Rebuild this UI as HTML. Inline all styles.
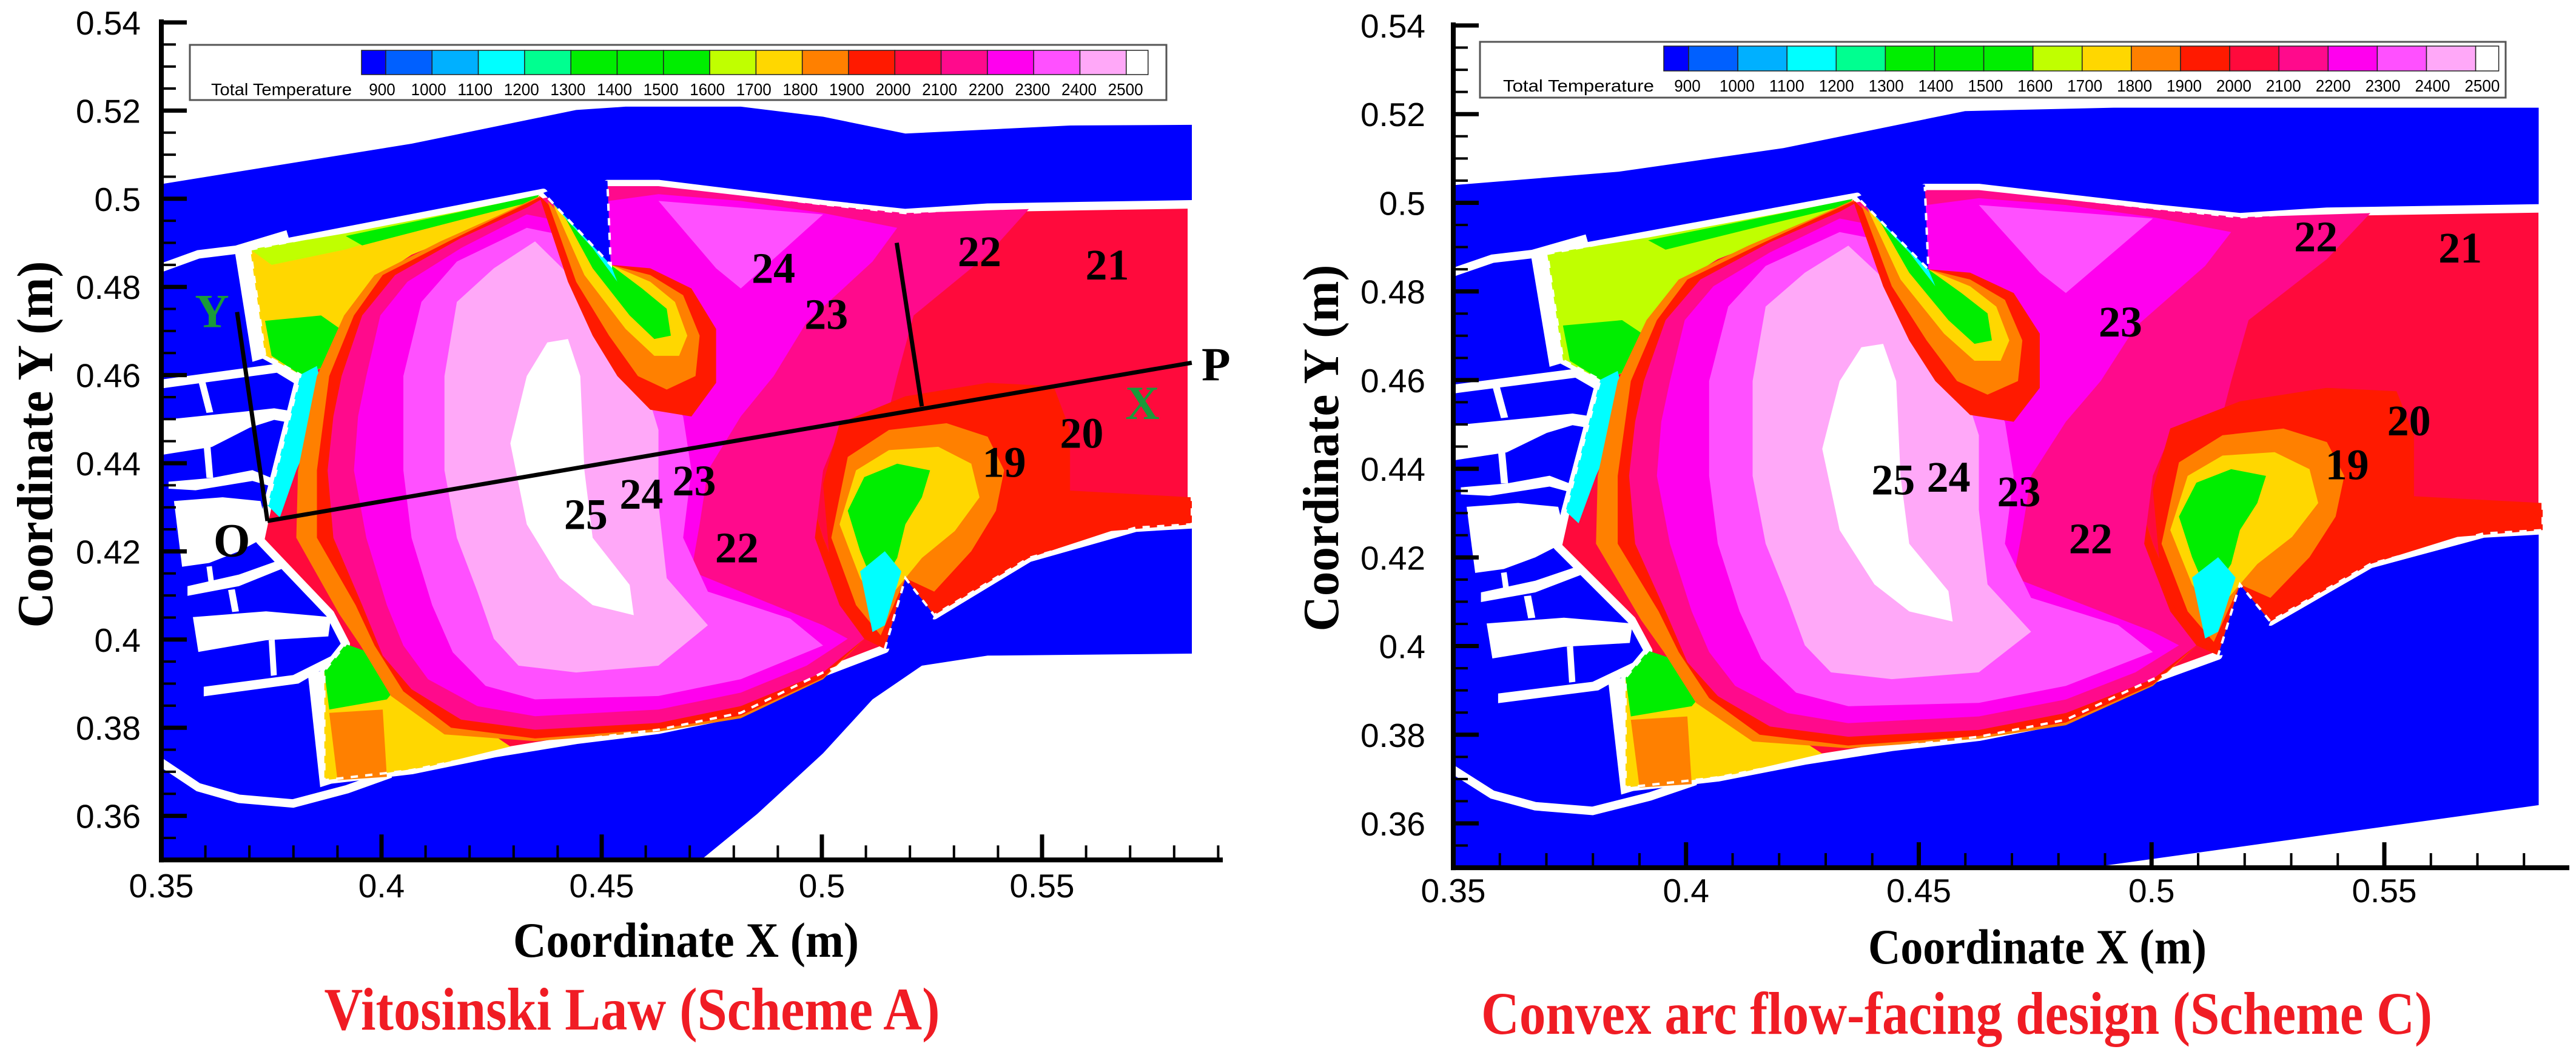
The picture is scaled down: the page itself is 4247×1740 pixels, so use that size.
<!DOCTYPE html>
<html><head><meta charset="utf-8"><style>
html,body{margin:0;padding:0;background:#fff;}
svg{display:block;}
</style></head><body>
<svg id="fig" width="4247" height="1740" viewBox="0 0 4247 1740" xmlns="http://www.w3.org/2000/svg"></svg>
<script>
// ---- chart data ----
const tickValuesX=[0.35,0.40,0.45,0.50,0.55];
const tickLabelsX=['0.35','0.4','0.45','0.5','0.55'];
const tickValuesY=[0.36,0.38,0.40,0.42,0.44,0.46,0.48,0.50,0.52,0.54];
const tickLabelsY=['0.36','0.38','0.4','0.42','0.44','0.46','0.48','0.5','0.52','0.54'];
const cbLevels=['900','1000','1100','1200','1300','1400','1500','1600','1700','1800','1900','2000','2100','2200','2300','2400','2500'];
const cbColors=['#0000ff','#0060ff','#00b0ff','#00ffff','#00ff90','#00ee00','#00ee00','#00ee00','#c0ff00','#ffd700','#ff8000','#ff1a00','#ff0a3c','#ff0a8c','#ff00ee','#ff50ff','#ffa8f8','#ffffff'];
const labelsA=['24','23','22','21','19','20','25','24','23','22'];
const labelsAx=[0.489,0.501,0.5358,0.5648,0.5414,0.559,0.4464,0.459,0.471,0.4807];
const labelsAy=[0.4842,0.4738,0.488,0.485,0.4402,0.4468,0.4284,0.433,0.436,0.4208];
const labelsC=['22','21','23','20','19','25','24','23','22'];
const labelsCx=[0.5353,0.5663,0.4933,0.5553,0.542,0.4445,0.4564,0.4715,0.4869];
const labelsCy=[0.4923,0.4898,0.4731,0.4508,0.4409,0.4375,0.4381,0.4348,0.4242];

const NS='http://www.w3.org/2000/svg';
const svg=document.getElementById('fig');
function el(tag,attrs,parent){const e=document.createElementNS(NS,tag);for(const k in attrs)e.setAttribute(k,attrs[k]);(parent||svg).appendChild(e);return e;}
function z1(a){return a.map(p=>[0.35+(p[0]-196)/5350,0.54-(p[1]-35)/6544]);}
function z2(a){return a.map(p=>[0.35+(p[0]-200)/5640,0.54-(p[1]-38)/6578]);}
function z6(a){return a.map(p=>{const px=260+p[0]/2.24,py=380+p[1]/1.568;return [0.35+(px-266)/7260,0.54-(py-37)/7270];});}

const casingA=z1([[196,1290],[840,1290],[920,1210],[1000,1120],[1060,1040],[1120,990],[1200,975],[1448,972],[1448,187],[1300,188],[1100,200],[1000,175],[900,160],[760,160],[700,165],[500,215],[196,275]]);
const casingC=z2([[200,1300],[900,1300],[1515,1195],[1515,160],[1000,160],[820,165],[600,220],[400,255],[200,275]]);
const hot=z1([[304,372],[660,288],[742,395],[738,275],[800,275],[900,290],[1000,305],[1100,318],[1200,310],[1448,305],[1448,780],[1380,785],[1250,830],[1135,915],[1100,860],[1075,965],[1000,1000],[900,1060],[800,1085],[700,1100],[600,1120],[500,1145],[465,1150],[394,1160],[394,998],[420,958],[401,913],[316,804],[325,752],[365,558],[322,529]]);
const swirl=[
 [[285,55],[335,50],[395,330],[350,340]],
 [[20,385],[440,345],[525,385],[515,400],[440,368],[20,408]],
 [[150,390],[175,388],[205,470],[180,472]],
 [[20,490],[300,470],[430,460],[520,470],[510,500],[430,490],[340,510],[200,560],[20,580]],
 [[170,560],[195,560],[205,640],[180,640]],
 [[40,650],[200,640],[350,620],[420,640],[420,662],[350,648],[140,672],[40,668]],
 [[60,700],[240,690],[380,700],[400,760],[380,800],[300,830],[190,860],[90,870]],
 [[110,920],[300,890],[460,850],[470,872],[300,920],[110,945]],
 [[180,870],[200,868],[210,920],[190,922]],
 [[260,930],[285,928],[300,985],[275,987]],
 [[130,1000],[400,985],[640,1000],[630,1050],[400,1060],[150,1090]],
 [[410,1060],[432,1058],[440,1150],[418,1152]],
 [[170,1180],[500,1150],[700,1080],[690,1102],[520,1172],[170,1205]],
 [[555,1150],[600,1140],[645,1430],[600,1440]]
].map(z6);
const arcTop=z6([[0,100],[150,62],[290,50],[480,10]]);
const arcBot=z6([[0,1370],[150,1440],[300,1470],[500,1482],[700,1445],[860,1405]]);

const layers=[
 ['#ffd700',[[304,372],[420,350],[560,315],[655,292],[600,330],[500,380],[450,420],[430,470],[420,520],[400,545],[365,558],[322,529]]],
 ['#c0ff00',[[304,372],[420,348],[560,315],[655,292],[620,305],[520,335],[420,372],[330,395]]],
 ['#00ee00',[[322,478],[390,470],[425,500],[398,545],[365,558],[330,530]]],
 ['#00ee00',[[420,352],[560,316],[655,291],[650,300],[560,328],[440,366]]],
 ['#ffd700',[[394,1000],[470,1000],[560,1060],[620,1110],[520,1140],[465,1150],[394,1160]]],
 ['#ff8000',[[400,1060],[465,1055],[470,1155],[410,1160]]],
 ['#00ee00',[[394,998],[420,958],[460,975],[490,1010],[470,1040],[400,1055]]],
 ['#00ffff',[[365,558],[385,545],[395,600],[360,700],[340,770],[325,752]]],
 ['#ff8000',[[385,560],[418,470],[455,410],[535,360],[605,322],[655,293],[700,360],[760,470],[800,520],[860,600],[900,630],[960,640],[1000,800],[1050,950],[1000,1010],[900,1068],[800,1088],[650,1102],[540,1092],[475,1035],[438,960],[412,913],[360,800],[362,700]]],
 ['#ff1a00',[[400,560],[430,470],[465,410],[545,360],[612,320],[655,295],[700,360],[760,470],[800,520],[860,600],[900,630],[960,640],[1000,800],[1050,950],[1000,1008],[900,1064],[800,1084],[650,1098],[548,1082],[490,1028],[455,960],[432,900],[385,800],[385,700]]],
 ['#ff0a8c',[[415,560],[440,470],[480,410],[560,355],[640,310],[660,296],[738,278],[800,278],[900,292],[1000,306],[1100,318],[1250,312],[1200,380],[1110,470],[1090,560],[1080,610],[1020,640],[1000,700],[990,800],[1020,900],[1050,950],[1000,1000],[900,1050],[800,1075],[650,1085],[560,1070],[500,1025],[465,975],[440,900],[405,800],[398,700],[405,620]]],
 ['#ff00ee',[[445,560],[462,470],[495,420],[560,370],[640,320],[680,330],[740,300],[800,290],[900,300],[1000,318],[1090,340],[1060,390],[980,480],[940,560],[900,620],[860,700],[850,780],[840,850],[900,880],[1000,930],[1030,950],[980,990],[900,1030],[800,1055],[650,1065],[580,1050],[520,1010],[490,960],[470,900],[445,800],[430,700],[435,620]]],
 ['#ff50ff',[[800,300],[1000,320],[900,430],[870,400]]],
 ['#ff50ff',[[490,560],[512,450],[555,390],[640,340],[680,350],[720,420],[760,500],[800,560],[830,620],[840,700],[830,800],[860,880],[960,920],[1000,960],[900,1010],[800,1035],[650,1040],[590,1020],[550,970],[525,900],[500,800],[490,700]]],
 ['#ffa8f8',[[540,560],[555,450],[600,400],[650,360],[700,420],[740,500],[780,560],[800,640],[800,750],[810,860],[860,930],[800,990],[700,1000],[630,990],[600,950],[580,880],[555,800],[540,700]]],
 ['#ffffff',[[620,660],[640,560],[665,510],[690,505],[705,560],[710,700],[720,800],[765,870],[770,915],[720,900],[680,860],[640,780]]],
 ['#ff1a00',[[655,292],[742,395],[790,400],[840,430],[870,490],[870,570],[840,620],[790,610],[750,560],[720,500],[690,420]]],
 ['#ff8000',[[665,300],[742,395],[790,410],[830,440],[850,500],[845,560],[810,580],[775,560],[740,500],[700,420]]],
 ['#ffd700',[[672,305],[742,395],[790,420],[820,450],[835,500],[825,530],[795,530],[760,490],[710,410]]],
 ['#00ee00',[[680,310],[742,395],[780,430],[810,460],[815,500],[795,505],[765,470],[720,400]]],
 ['#00ffff',[[662,290],[742,395],[750,420],[720,370],[690,330]]],
 ['#ff1a00',[[1000,720],[1020,630],[1100,590],[1200,570],[1280,575],[1300,640],[1300,730],[1448,740],[1448,780],[1350,790],[1250,830],[1135,915],[1100,860],[1075,965],[1050,950],[1010,860]]],
 ['#ff8000',[[1010,800],[1030,680],[1080,640],[1150,630],[1200,650],[1220,700],[1210,760],[1180,820],[1135,880],[1100,860],[1070,945],[1040,900]]],
 ['#ffd700',[[1020,780],[1040,700],[1080,670],[1140,665],[1180,690],[1190,740],[1160,790],[1120,830],[1100,860],[1070,905],[1045,860]]],
 ['#00ee00',[[1030,760],[1050,710],[1090,690],[1130,700],[1120,740],[1100,780],[1090,830],[1065,880],[1045,820]]],
 ['#00ffff',[[1045,850],[1075,820],[1095,850],[1075,930],[1060,940]]],
 ['#0000ff',[[660,288],[742,395],[738,270],[700,270]]],
 ['#0000ff',[[1075,965],[1100,860],[1135,915],[1120,960]]]
].map(l=>[l[0],z1(l[1])]);

function drawPlot(cfg){
  const X=x=>cfg.x0+(x-0.35)*cfg.xs, Y=y=>cfg.y0+(0.54-y)*cfg.ys;
  const pts=a=>a.map(p=>X(p[0]).toFixed(1)+','+Y(p[1]).toFixed(1)).join(' ');
  const xEnd=cfg.xEnd, yBot=Y(0.35);
  const defs=el('defs',{});
  const cp=el('clipPath',{id:cfg.id+'-clip'},defs);
  el('rect',{x:X(0.35),y:cfg.y0,width:xEnd-X(0.35),height:yBot-cfg.y0},cp);
  const g=el('g',{'clip-path':'url(#'+cfg.id+'-clip)'});
  
  
  const cas=el('polygon',{points:pts(cfg.casing),fill:'#0000ff'},g);
  
  
  swirl.forEach(s=>{const p=el('polygon',{points:pts(s),fill:'#fff'},g);
    
    });
  [arcTop,arcBot].forEach(a=>{const p=el('polyline',{points:pts(a),fill:'none',stroke:'#fff','stroke-width':14},g);
    
    });
  const h=el('polygon',{points:pts(hot),fill:'#ff0a3c',stroke:'#fff','stroke-width':14,'stroke-linejoin':'round'},g);
  
  
  layers.forEach((l,i)=>{let c=l[0];
    if(cfg.chart && i<2) c='#c0ff00';
    const p=el('polygon',{points:pts(l[1]),fill:c},g);
    
    });
  el('polygon',{points:pts(hot),fill:'none',stroke:'#fff','stroke-width':4,'stroke-dasharray':'12 12'},g);
  const ax=el('g',{});
  
  
  for(let v=0.35;v<=0.5901;v+=0.005){const y=Y(v);const major=Math.abs(Math.round(v*50)-v*50)<1e-6;
    if(y<cfg.y0-2)continue;
    el('line',{x1:X(0.35),x2:X(0.35)+(major?42:24),y1:y,y2:y,stroke:'#000','stroke-width':major?7:4},ax);}
  for(let v=0.35;v<=0.5901;v+=0.01){const x=X(v);if(x>xEnd)break;const major=Math.abs(Math.round(v*20)-v*20)<1e-6;
    el('line',{x1:x,x2:x,y1:yBot,y2:yBot-(major?42:24),stroke:'#000','stroke-width':major?7:4},ax);}
  el('line',{x1:X(0.35),x2:X(0.35),y1:cfg.y0-5,y2:yBot+4,stroke:'#000','stroke-width':8},ax);
  el('line',{x1:X(0.35)-4,x2:xEnd,y1:yBot,y2:yBot,stroke:'#000','stroke-width':8},ax);
  tickValuesY.forEach((v,i)=>{const t=el('text',{x:cfg.ylabX,y:Y(v)+20,'text-anchor':'end','font-family':'Liberation Sans, sans-serif','font-size':55},ax);t.textContent=tickLabelsY[i];
    
    });
  tickValuesX.forEach((v,i)=>{const t=el('text',{x:X(v),y:cfg.xlabY,'text-anchor':'middle','font-family':'Liberation Sans, sans-serif','font-size':55},ax);t.textContent=tickLabelsX[i];
    
    });
  const xt=el('text',{x:cfg.xt[0],y:cfg.xt[1],'text-anchor':'middle','font-family':'Liberation Serif, serif','font-weight':'bold','font-size':82,textLength:cfg.xt[2],lengthAdjust:'spacingAndGlyphs'});
  xt.textContent='Coordinate X (m)';
  
  
  const yt=el('text',{transform:'translate('+cfg.yt[0]+','+cfg.yt[1]+') rotate(-90)','text-anchor':'middle','font-family':'Liberation Serif, serif','font-weight':'bold','font-size':84,textLength:605,lengthAdjust:'spacingAndGlyphs'});
  yt.textContent='Coordinate Y (m)';
  
  
  const cap=el('text',{x:cfg.cap[0],y:cfg.cap[1],'text-anchor':'middle','font-family':'Liberation Serif, serif','font-weight':'bold','font-size':100,fill:'#f01c24',textLength:cfg.cap[2],lengthAdjust:'spacingAndGlyphs'});
  cap.textContent=cfg.caption;
  
  
  const cb=cfg.cb;
  const lg=el('g',{});
  
  
  el('rect',{x:cb.bx,y:cb.by,width:cb.bw,height:cb.bh,fill:'#fff',stroke:'#555','stroke-width':3},lg);
  const tt=el('text',{x:cb.tx,y:cb.ly,'font-family':'Liberation Sans, sans-serif','font-size':28,textLength:cb.tw,lengthAdjust:'spacingAndGlyphs'},lg);
  tt.textContent='Total Temperature';
  
  
  let cx=cb.x;
  cbColors.forEach((c,i)=>{const w=(i===0)?cb.first:(i===cbColors.length-1?cb.last:cb.cw);
    const r=el('rect',{x:cx,y:cb.y0,width:w,height:cb.y1-cb.y0,fill:c,stroke:'#222','stroke-width':1.5},lg);
    
    
    cx+=w;});
  cbLevels.forEach((s,i)=>{const t=el('text',{x:cb.l0+cb.lp*i,y:cb.ly,'text-anchor':'middle','font-family':'Liberation Sans, sans-serif','font-size':28,textLength:s.length*14.5,lengthAdjust:'spacingAndGlyphs'},lg);
    t.textContent=s;
    
    });
  const ov=el('g',{});
  if(!cfg.chart){
    const O=[0.3741,0.4269],P=[0.584,0.4628],Yp=[0.3672,0.4743],L1=[0.5227,0.4529],L2=[0.517,0.49];
    [[O,P],[O,Yp],[L1,L2]].forEach(s=>{const l=el('line',{x1:X(s[0][0]),y1:Y(s[0][1]),x2:X(s[1][0]),y2:Y(s[1][1]),stroke:'#000','stroke-width':7},ov);
      
      });
    [['O',0.366,0.4225,'#000'],['P',0.5895,0.4625,'#000'],['Y',0.3615,0.4745,'#1a9a3a'],['X',0.5728,0.4537,'#1a9a3a']].forEach(a=>{
      const t=el('text',{x:X(a[1]),y:Y(a[2]),'text-anchor':'middle','dominant-baseline':'central','font-family':'Liberation Serif, serif','font-weight':'bold','font-size':78,fill:a[3]},ov);
      t.textContent=a[0];
      
      });
  }
  cfg.labels.forEach((s,i)=>{const t=el('text',{x:X(cfg.lx[i]),y:Y(cfg.ly[i]),'text-anchor':'middle','dominant-baseline':'central','font-family':'Liberation Serif, serif','font-weight':'bold','font-size':72,fill:'#000'},ov);
    t.textContent=s;
    
    });
}
drawPlot({id:'scheme-a',x0:266,xs:7260,y0:37,ys:7270,xEnd:2016,casing:casingA,chart:false,
  ylabX:232,xlabY:1480,xt:[1131,1578,570],yt:[86,733],cap:[1042,1698,1015],caption:'Vitosinski Law (Scheme A)',
  cb:{bx:313,by:74,bw:1610,bh:91,tx:348,tw:232,x:596,first:40,cw:76.3,last:36,y0:83,y1:123,l0:630,lp:76.6,ly:157},
  labels:labelsA,lx:labelsAx,ly:labelsAy});
drawPlot({id:'scheme-c',x0:2396,xs:7675,y0:42,ys:7311,xEnd:4236,casing:casingC,chart:true,
  ylabX:2350,xlabY:1488,xt:[3359,1589,558],yt:[2206,739],cap:[3226,1705,1568],caption:'Convex arc flow-facing design (Scheme C)',
  cb:{bx:2440,by:69,bw:1691,bh:92,tx:2478,tw:249,x:2743,first:41,cw:81.1,last:38,y0:76,y1:117,l0:2782,lp:81.9,ly:151},
  labels:labelsC,lx:labelsCx,ly:labelsCy});
</script>
</body></html>
